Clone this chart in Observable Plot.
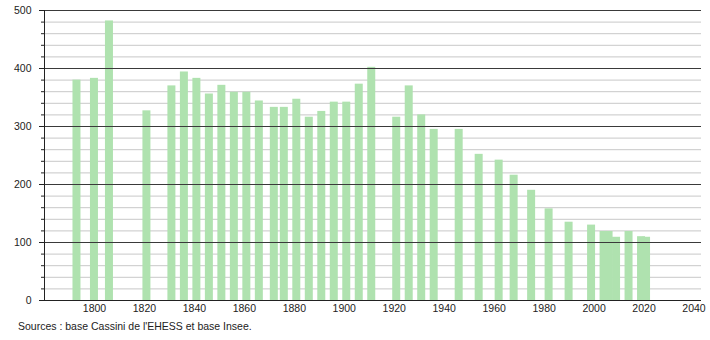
<!DOCTYPE html>
<html>
<head>
<meta charset="utf-8">
<script src="https://cdn.jsdelivr.net/npm/d3@7"></script>
<script src="https://cdn.jsdelivr.net/npm/@observablehq/plot@0.6"></script>
<style>
  html, body { margin: 0; padding: 0; background: #fff; }
  #wrap { position: relative; width: 710px; height: 340px; font-family: "Liberation Sans", Arial, sans-serif; }
  #caption { position: absolute; left: 18px; top: 320px; font-size: 10.5px; line-height: 13px; color: #222; white-space: nowrap; }
</style>
</head>
<body>
<div id="wrap"><div id="chart"></div><div id="caption">Sources : base Cassini de l'EHESS et base Insee.</div></div>
<script>
const years = [1793, 1800, 1806, 1821, 1831, 1836, 1841, 1846, 1851, 1856, 1861, 1866, 1872, 1876, 1881, 1886, 1891, 1896, 1901, 1906, 1911, 1921, 1926, 1931, 1936, 1946, 1954, 1962, 1968, 1975, 1982, 1990, 1999, 2004, 2006, 2009, 2014, 2019, 2021];
const population = [380, 383, 482, 327, 370, 394, 383, 356, 371, 359, 359, 344, 333, 333, 347, 316, 326, 342, 342, 373, 402, 316, 370, 320, 295, 295, 252, 242, 216, 190, 158, 135, 130, 119, 119, 109, 119, 110, 109];
const yTickLabels = [0, 100, 200, 300, 400, 500];
const xTickLabels = [1800, 1820, 1840, 1860, 1880, 1900, 1920, 1940, 1960, 1980, 2000, 2020, 2040];

const data = years.map((y, i) => ({year: y, pop: population[i]}));
const minor = d3.range(0, 501, 20).filter(v => v % 100 !== 0);
const half = 1.6;

const chart = Plot.plot({
  width: 710,
  height: 320,
  marginLeft: 44,
  marginRight: 9,
  marginTop: 10,
  marginBottom: 20,
  style: {fontFamily: "Liberation Sans, Arial, sans-serif", fontSize: "10.5px", color: "#222", background: "#fff"},
  x: {domain: [1780, 2043], label: null},
  y: {domain: [0, 500], label: null},
  marks: [
    Plot.ruleY(minor, {stroke: "#c8c8c8", strokeWidth: 1}),
    Plot.rectY(data, {x1: d => d.year - half, x2: d => d.year + half, y: "pop", fill: "#afe2af"}),
    Plot.ruleY(yTickLabels.filter(v => v > 0), {stroke: "#3a3a3a", strokeWidth: 1}),
    Plot.ruleY([0], {stroke: "#222", strokeWidth: 1}),
    Plot.ruleX([1780], {stroke: "#222", strokeWidth: 1}),
    Plot.axisY(d3.range(0, 501, 20), {tickSize: 3, tickFormat: () => "", stroke: "#222"}),
    Plot.axisY(yTickLabels, {tickSize: 5, tickPadding: 8, stroke: "#222", fill: "#222"}),
    Plot.axisX(xTickLabels, {tickSize: 0, tickPadding: 4, tickFormat: d => String(d), fill: "#222"})
  ]
});
document.getElementById("chart").appendChild(chart);
</script>
</body>
</html>
